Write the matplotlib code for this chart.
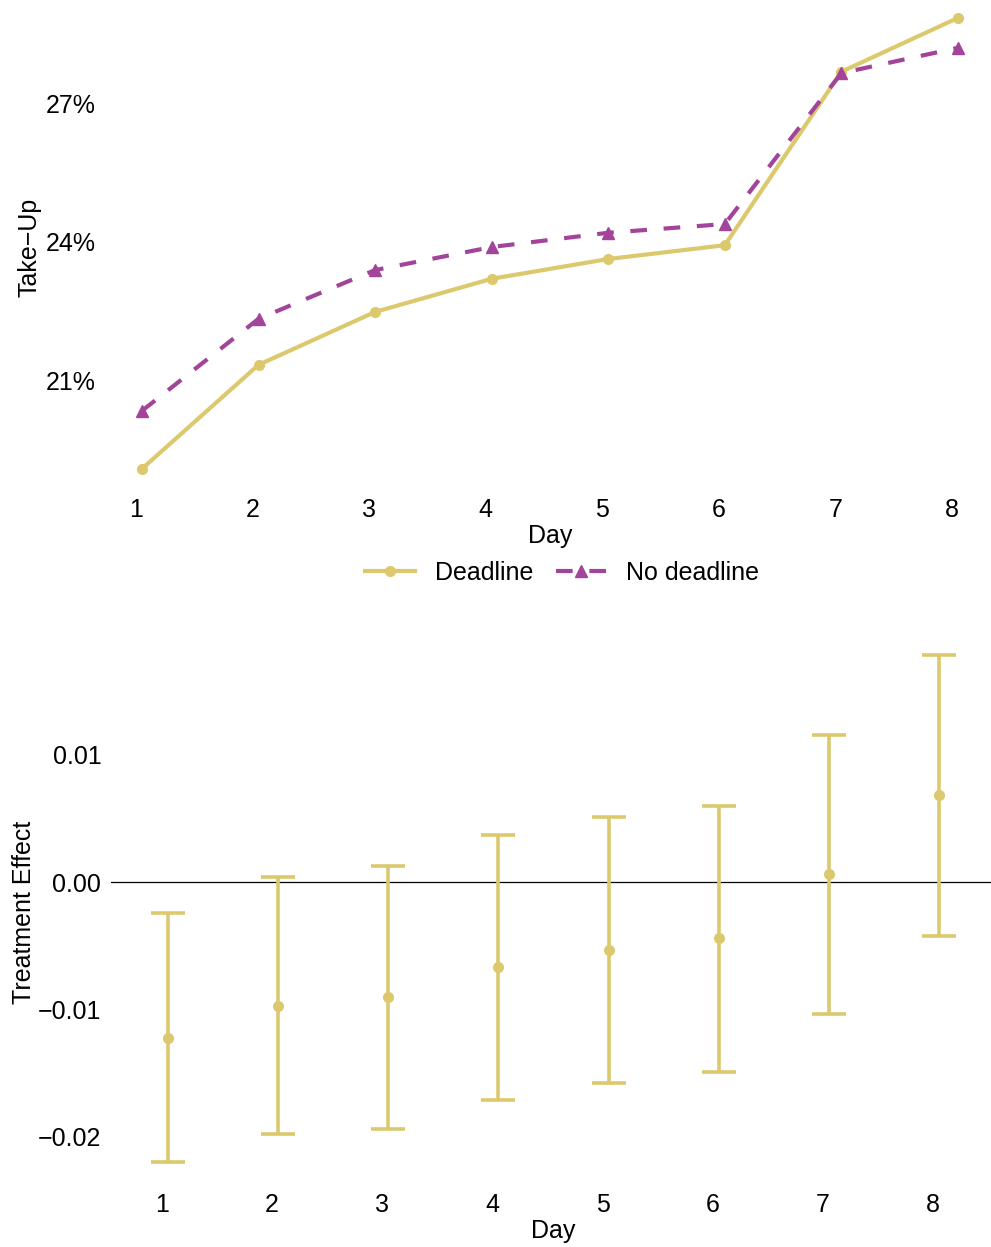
import matplotlib
matplotlib.use("Agg")
from matplotlib import pyplot as plt
from matplotlib import transforms
import numpy as np

# Data
days = [1, 2, 3, 4, 5, 6, 7, 8]
deadline = [19.07, 21.33, 22.48, 23.20, 23.63, 23.93, 27.70, 28.87]
no_deadline = [20.33, 22.33, 23.39, 23.89, 24.20, 24.39, 27.67, 28.22]

effect = [-0.01226, -0.00974, -0.00903, -0.00668, -0.00534, -0.00440, 0.00063, 0.00683]
ci_low = [-0.0220, -0.0198, -0.0194, -0.0171, -0.0158, -0.0149, -0.0104, -0.00424]
ci_high = [-0.00244, 0.0004, 0.00126, 0.0037, 0.0051, 0.0060, 0.01155, 0.01783]

yellow = "#DCC96E"
purple = "#A3449B"

plt.rcParams['font.family'] = ['Liberation Sans', 'DejaVu Sans']
plt.rcParams['font.size'] = 18

W, H = 991, 1247
fig = plt.figure(figsize=(W / 100, H / 100), dpi=100)


def px_axes(left, top, right, bottom):
    return fig.add_axes([left / W, 1 - bottom / H, (right - left) / W, (bottom - top) / H])


def clean(ax):
    for s in ax.spines.values():
        s.set_visible(False)
    ax.tick_params(length=0, pad=7, labelsize=18)
    ax.tick_params(axis="x", pad=5.5)
    # tick labels sit a little left of the marks
    off = transforms.ScaledTranslation(-6 / 100, 0, fig.dpi_scale_trans)
    for lab in ax.get_xticklabels():
        lab.set_transform(lab.get_transform() + off)


# Top panel: take-up
ax1 = px_axes(105, 5, 985, 490)
ax1.plot(days, deadline, color=yellow, lw=3, marker="o", ms=7, label="Deadline")
ax1.plot(days, no_deadline, color=purple, lw=3, ls=(0, (4, 4)), marker="^", ms=9,
         label="No deadline")
ax1.set_xlim(0.683, 8.232)
ax1.set_ylim(18.61, 29.15)
ax1.set_xticks(days)
ax1.set_yticks([21, 24, 27])
ax1.set_yticklabels(["21%", "24%", "27%"])
ax1.set_xlabel("Day", labelpad=2)
ax1.xaxis.label.set_x((550 - 105) / 880)
ax1.set_ylabel("Take\u2212Up")
ax1.yaxis.set_label_coords(-64 / 880, 0.5)
clean(ax1)

fig.legend(*ax1.get_legend_handles_labels(), loc="center", ncol=2,
           bbox_to_anchor=(0.567, 1 - 573 / H), frameon=False, fontsize=18,
           handlelength=2.0, handletextpad=0.8, columnspacing=0.9)

# Bottom panel: treatment effect
ax2 = px_axes(111, 640, 991, 1185)
eff = np.array(effect)
yerr = [eff - np.array(ci_low), np.array(ci_high) - eff]
ax2.axhline(0, color="black", lw=0.9)
ax2.errorbar(days, effect, yerr=yerr, fmt="o", color=yellow, ms=7,
             elinewidth=2.6, capsize=12, capthick=2.6)
ax2.set_xlim(0.4825, 8.4725)
ax2.set_ylim(-0.0238, 0.01901)
ax2.set_xticks(days)
ax2.set_yticks([-0.02, -0.01, 0.0, 0.01])
ax2.set_yticklabels(["\u22120.02", "\u22120.01", "0.00", "0.01"])
ax2.set_xlabel("Day", labelpad=2)
ax2.xaxis.label.set_x((553 - 111) / 880)
ax2.set_ylabel("Treatment Effect")
ax2.yaxis.set_label_coords(-75 / 880, 0.5)
clean(ax2)

fig.savefig("out.png", dpi=100)
